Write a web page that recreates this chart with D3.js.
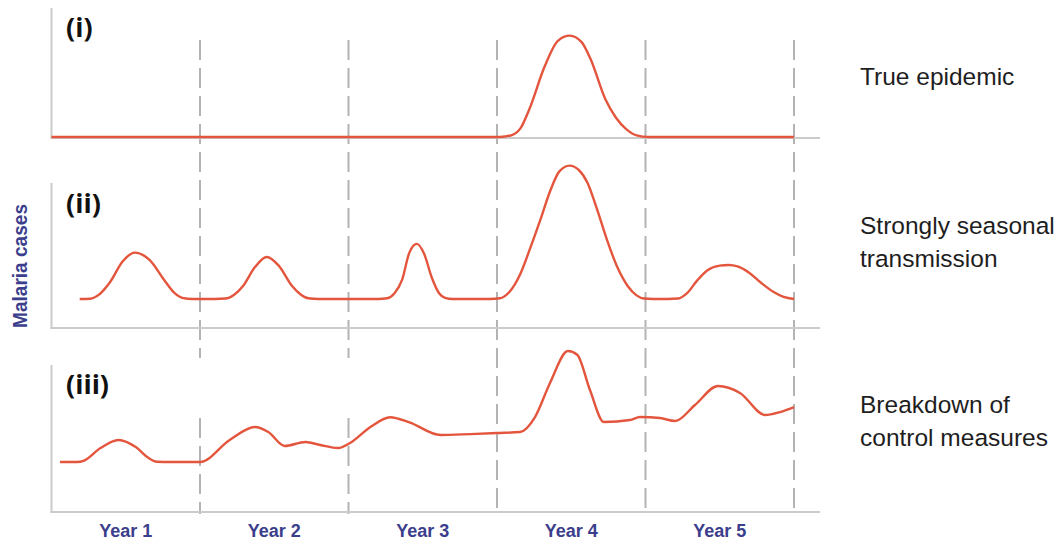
<!DOCTYPE html>
<html>
<head>
<meta charset="utf-8">
<script src="https://cdn.jsdelivr.net/npm/d3@7"></script>
<style>
  html, body { margin: 0; padding: 0; background: #fff; }
  svg { display: block; }
  .axis-line { stroke: #cbcbcb; stroke-width: 2; }
  .year-line { stroke: #b3b3b3; stroke-width: 2; stroke-dasharray: 20 8; }
  .cases-line { fill: none; stroke: #e4553d; stroke-width: 2.4; }
  .panel-tag { font-family: "Open Sans", sans-serif; font-weight: 700; font-size: 27px; fill: #111; }
  .panel-note { font-family: "Liberation Sans", Arial, sans-serif; font-size: 24.5px; fill: #1e1e1e; }
  .year-label { font-family: "Liberation Sans", Arial, sans-serif; font-weight: 700; font-size: 18px; fill: #3b3e8c; }
  .y-title { font-family: "Liberation Sans", Arial, sans-serif; font-weight: 700; font-size: 20px; fill: #3b3e8c; }
</style>
</head>
<body>
<svg id="chart" width="1056" height="543"></svg>
<script>
// years along the bottom
const YEAR_LABELS = ["Year 1", "Year 2", "Year 3", "Year 4", "Year 5"];
const YEAR_BOUNDS = [1, 2, 3, 4, 5];

const PANEL_TAGS = ["(i)", "(ii)", "(iii)"];
const PANEL_NOTES = [
  ["True epidemic"],
  ["Strongly seasonal", "transmission"],
  ["Breakdown of", "control measures"]
];

// [year, cases]
const TRUE_EPIDEMIC = [
  [0, 0], [1, 0], [2, 0], [2.9, 0], [3.02, 0], [3.1, 0.15], [3.16, 0.7],
  [3.22, 2.2], [3.32, 5.4], [3.41, 7.4], [3.49, 7.8], [3.57, 7.3],
  [3.63, 6.0], [3.73, 2.9], [3.8, 1.5], [3.87, 0.6], [3.94, 0.12],
  [4.02, 0], [4.2, 0], [5, 0]
];

const SEASONAL = [
  [0.19, 2], [0.26, 2.02], [0.32, 2.3], [0.39, 3.1], [0.48, 4.6], [0.56, 5.2],
  [0.66, 4.7], [0.76, 3.3], [0.83, 2.4], [0.88, 2.08], [0.95, 2.0],
  [1.1, 2.0], [1.17, 2.03], [1.23, 2.3], [1.29, 2.9], [1.37, 4.2], [1.45, 4.9],
  [1.53, 4.3], [1.62, 2.9], [1.68, 2.3], [1.73, 2.05], [1.8, 2.0], [2.0, 2.0],
  [2.2, 2.0], [2.26, 2.05], [2.31, 2.4], [2.36, 3.3], [2.41, 5.2], [2.46, 5.8],
  [2.51, 5.1], [2.56, 3.5], [2.61, 2.4], [2.65, 2.08], [2.7, 2.0], [2.95, 2.0],
  [3.02, 2.05], [3.08, 2.45], [3.16, 3.8], [3.22, 5.4],
  [3.29, 7.4], [3.36, 9.5], [3.42, 10.8], [3.49, 11.2], [3.55, 10.9],
  [3.61, 10.0], [3.67, 8.3], [3.74, 6.1], [3.81, 4.2], [3.88, 2.9],
  [3.94, 2.25], [3.99, 2.03], [4.05, 2.0], [4.15, 2.0],
  [4.22, 2.03], [4.28, 2.4], [4.35, 3.3], [4.42, 4.0], [4.5, 4.3], [4.56, 4.35],
  [4.62, 4.25], [4.7, 3.8], [4.78, 3.1], [4.86, 2.5], [4.93, 2.15], [5.0, 2.0]
];

const BREAKDOWN = [
  [0.057, 3.4], [0.17, 3.4], [0.22, 3.5], [0.33, 4.35], [0.45, 4.9], [0.57, 4.4],
  [0.65, 3.7], [0.71, 3.42], [0.8, 3.4], [1.0, 3.4], [1.2, 4.9], [1.37, 5.78],
  [1.46, 5.44], [1.57, 4.49], [1.71, 4.76], [1.81, 4.56], [1.93, 4.35],
  [2.01, 4.69], [2.15, 5.8], [2.28, 6.45], [2.41, 6.1], [2.62, 5.24],
  [2.82, 5.3], [3.0, 5.37], [3.155, 5.44], [3.256, 6.46], [3.357, 8.78],
  [3.478, 10.95], [3.54, 10.7], [3.626, 8.3], [3.72, 6.12], [3.896, 6.26],
  [3.963, 6.46], [4.098, 6.39], [4.199, 6.19], [4.333, 7.28], [4.488, 8.57],
  [4.636, 8.1], [4.805, 6.6], [4.906, 6.8], [5.0, 7.14]
];

const svg = d3.select("#chart");

const x = d3.scaleLinear()
  .domain([0, 5])
  .range([51.5, 794]);

const axisRight = 820;

const panels = [
  {data: TRUE_EPIDEMIC, top: 8, base: 138, tagY: 37, noteY: 85},
  {data: SEASONAL, top: 183, base: 328, tagY: 213, noteY: 234},
  {data: BREAKDOWN, top: 365, base: 512, tagY: 394, noteY: 413}
];

// dashed year boundaries (first two are broken above panel iii)
YEAR_BOUNDS.forEach((yr) => {
  const pieces = yr <= 2 ? [[40, 358], [418, 514]] : [[40, 514]];
  pieces.forEach((p) => {
    svg.append("line")
      .classed("year-line", true)
      .attr("x1", x(yr)).attr("x2", x(yr))
      .attr("y1", p[0]).attr("y2", p[1]);
  });
});

panels.forEach((panel, i) => {
  const y = d3.scaleLinear()
    .domain([0, 10])
    .range([panel.base, panel.top]);

  svg.append("line")
    .classed("axis-line", true)
    .attr("x1", x(0)).attr("x2", x(0))
    .attr("y1", panel.top).attr("y2", panel.base + 1);

  svg.append("line")
    .classed("axis-line", true)
    .attr("x1", x(0) - 1).attr("x2", axisRight)
    .attr("y1", panel.base).attr("y2", panel.base);

  const line = d3.line()
    .x((d) => x(d[0]))
    .y((d) => y(d[1]))
    .curve(d3.curveMonotoneX);

  svg.append("path")
    .datum(panel.data)
    .classed("cases-line", true)
    .attr("d", line)
    .attr("transform", i == 0 ? "translate(0,-1)" : null);

  svg.append("text")
    .classed("panel-tag", true)
    .attr("x", 66)
    .attr("y", panel.tagY)
    .text(PANEL_TAGS[i]);

  const note = svg.append("text")
    .classed("panel-note", true)
    .attr("x", 860)
    .attr("y", panel.noteY);

  note.selectAll("tspan")
    .data(PANEL_NOTES[i])
    .enter()
    .append("tspan")
    .attr("x", 860)
    .attr("dy", (d, j) => j == 0 ? 0 : 33)
    .text((d) => d);
});

svg.selectAll(".year-label")
  .data(YEAR_LABELS)
  .enter()
  .append("text")
  .classed("year-label", true)
  .attr("text-anchor", "middle")
  .attr("x", (d, i) => x(i + 0.5))
  .attr("y", 537)
  .text((d) => d);

svg.append("text")
  .classed("y-title", true)
  .attr("text-anchor", "middle")
  .attr("transform", "translate(27,266) rotate(-90)")
  .attr("textLength", 124)
  .attr("lengthAdjust", "spacingAndGlyphs")
  .text("Malaria cases");
</script>
</body>
</html>
